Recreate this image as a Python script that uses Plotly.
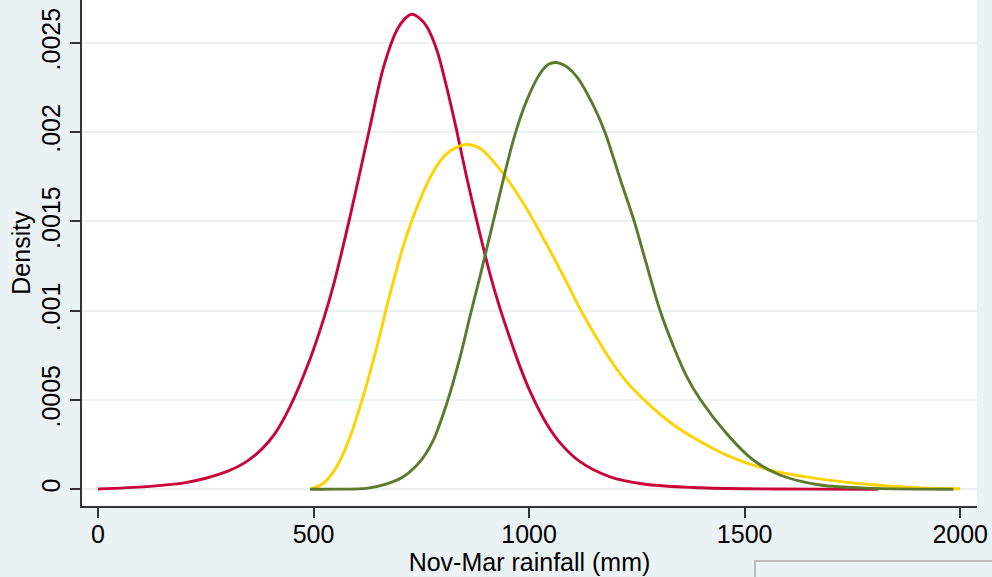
import plotly.graph_objects as go

# ---- data ----
red_x = [0, 113, 200, 250, 300, 340, 380, 410, 445, 492, 523, 546, 585, 631, 662, 693,
         710, 728, 745, 763, 786, 809, 832, 855, 886, 910, 933, 955, 980, 1002, 1040,
         1072, 1118, 1188, 1265, 1380, 1500, 1650, 1810]
red_y = [0.000002, 0.000015, 0.000036, 0.000062, 0.000100, 0.000148, 0.000225,
         0.000310, 0.000460, 0.000730, 0.000950, 0.00114, 0.00153, 0.00203, 0.00236,
         0.00257, 0.00263, 0.00266, 0.00264, 0.00259, 0.00246, 0.00225, 0.00201,
         0.00175, 0.00143, 0.00120, 0.00101, 0.00085, 0.00068, 0.00055, 0.00037,
         0.00026, 0.000155, 0.00007, 0.00003, 0.00001, 0.000003, 0.000001, 0.0]

yellow_x = [492, 523, 554, 585, 615, 647, 677, 708, 740, 778, 809, 851, 886, 933, 987,
            1041, 1087, 1114, 1149, 1190, 1227, 1276, 1330, 1381, 1459, 1551, 1670, 1783,
            1899, 2000]
yellow_y = [0.0, 0.000034, 0.000127, 0.000295, 0.000519, 0.000798, 0.00109, 0.00136,
            0.00158, 0.00178, 0.00188, 0.00193, 0.00191, 0.00179, 0.00160, 0.00137,
            0.00116, 0.00103, 0.00088, 0.00072, 0.00060, 0.00048, 0.00037, 0.00029,
            0.00019, 0.000112, 0.00006, 0.000028, 0.000009, 0.000003]

green_x = [492, 560, 623, 670, 708, 747, 778, 809, 840, 863, 886, 917, 964, 995, 1026,
           1045, 1064, 1085, 1111, 1149, 1176, 1211, 1244, 1270, 1304, 1335, 1366, 1398,
           1459, 1520, 1582, 1675, 1800, 1984]
green_y = [0.0, 0.000001, 0.000005, 0.00003, 0.00007, 0.000155, 0.000276, 0.00048,
           0.00074, 0.00097, 0.00119, 0.00150, 0.00196, 0.00218, 0.00233,
           0.00238, 0.00239, 0.00237, 0.00231, 0.00215, 0.00200, 0.00174, 0.00150,
           0.00128, 0.00100, 0.00080, 0.00063, 0.00050, 0.00031, 0.000164, 0.00008,
           0.000024, 0.000005, 0.0]

x_ticks = [0, 500, 1000, 1500, 2000]
x_tick_labels = ["0", "500", "1000", "1500", "2000"]
y_ticks = [0, 0.0005, 0.001, 0.0015, 0.002, 0.0025]
y_tick_labels = ["0", ".0005", ".001", ".0015", ".002", ".0025"]

BG = "#EAF2F3"
FONT = "Liberation Sans, Arial, sans-serif"

fig = go.Figure()
for xs, ys, col, name in [(red_x, red_y, "#C8043A", "Series 1"),
                          (yellow_x, yellow_y, "#FFD200", "Series 2"),
                          (green_x, green_y, "#5A7A2C", "Series 3")]:
    fig.add_trace(go.Scatter(x=xs, y=ys, mode="lines", name=name,
                             line=dict(color=col, width=2.9, shape="spline", smoothing=0.9)))

fig.update_layout(
    width=992, height=577,
    margin=dict(l=82, r=15, t=0, b=71),
    paper_bgcolor=BG, plot_bgcolor="white",
    showlegend=False,
    font=dict(family=FONT, size=25, color="black"),
    xaxis=dict(range=[-37, 2039], tickvals=x_ticks, ticktext=x_tick_labels,
               showgrid=False, zeroline=False, showline=True, linecolor="#333333",
               linewidth=1.5, ticks="outside", ticklen=10, tickwidth=1.5,
               tickcolor="#333333", tickfont=dict(size=25), ticklabelstandoff=-5,
               title=dict(text="Nov-Mar rainfall (mm)", font=dict(size=25), standoff=0)),
    yaxis=dict(range=[-0.0000935, 0.00274], tickvals=y_ticks, ticktext=y_tick_labels,
               showgrid=True, gridcolor=BG, gridwidth=2, zeroline=False, showline=True,
               linecolor="#333333", linewidth=1.5, ticks="outside", ticklen=10,
               tickwidth=1.5, tickcolor="#333333", tickangle=-90, tickfont=dict(size=25),
               title=dict(text="Density", font=dict(size=25), standoff=0)),
)

# partially visible legend box at the bottom edge
fig.add_shape(type="rect", xref="paper", yref="paper",
              x0=(755 - 82) / 895, x1=1.2, y0=-0.35, y1=-(561 - 506) / 506,
              line=dict(color="#BDBDBD", width=2), fillcolor=BG, layer="above")

fig.write_html("out.html", config={"displayModeBar": False},
               post_script="document.body.style.margin='0';document.body.style.overflow='hidden';")
